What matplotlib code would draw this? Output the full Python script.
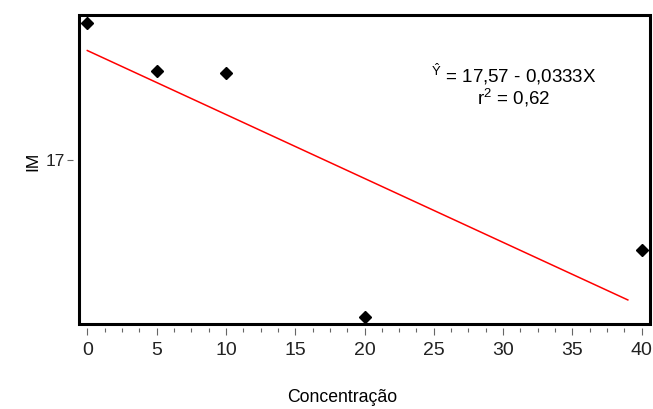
import numpy as np
import matplotlib
matplotlib.use("Agg")
import matplotlib.pyplot as plt
from matplotlib import ticker
from matplotlib.patches import Rectangle

plt.rcParams['font.family'] = ['Liberation Sans', 'DejaVu Sans']
plt.rcParams['mathtext.fontset'] = 'custom'
plt.rcParams['mathtext.rm'] = 'Liberation Sans'
plt.rcParams['mathtext.it'] = 'Liberation Sans'

# dados observados
conc = [0, 5, 10, 20, 40]
im = [17.714, 17.464, 17.453, 16.182, 16.531]

# reta ajustada
b0 = 17.57
b1 = -0.0333
x_fit = np.array([0, 39])
y_fit = b0 + b1 * x_fit

W, H = 653, 409
fig = plt.figure(figsize=(W / 100, H / 100), dpi=100)
ax = fig.add_axes([79 / W, 1 - 324 / H, 571 / W, 309 / H])

ax.plot(x_fit, y_fit, color='red', lw=1.1)
ax.plot(conc, im, 'D', color='black', markersize=6.5, clip_on=False, zorder=3)

ax.set_xlim(-0.6, 40.6)
ax.set_ylim(16.146, 17.755)

ax.xaxis.set_major_locator(ticker.MultipleLocator(5))
ax.xaxis.set_minor_locator(ticker.MultipleLocator(1.25))
ax.yaxis.set_major_locator(ticker.FixedLocator([17]))
ax.yaxis.set_major_formatter(ticker.FixedFormatter(['17']))

# moldura grossa; os ticks ficam um pouco afastados dela
for s in ax.spines.values():
    s.set_visible(False)
ax.spines['bottom'].set_position(('outward', 3))
ax.spines['left'].set_position(('outward', 4))
ax.add_patch(Rectangle((0, 0), 1, 1, transform=ax.transAxes, fill=False,
                       lw=2.2, edgecolor='black', clip_on=False, zorder=4))

ax.tick_params(axis='x', which='major', length=5, width=0.8, pad=5,
               labelsize=14, color='#666666', labelcolor='#222222')
ax.tick_params(axis='x', which='minor', length=3, width=0.8, color='#666666')
ax.tick_params(axis='y', which='major', length=4, width=0.8, pad=2,
               labelsize=12.5, color='#666666', labelcolor='#222222')

fig.text(342 / W, 1 - 398 / H, 'Concentração', fontsize=12.7,
         ha='center', va='center')
fig.text(33 / W, 1 - 161 / H, 'IM', fontsize=12.5, rotation=90,
         ha='center', va='center')

eq = r'$^{\hat{\mathrm{Y}}}$' + ' = 17,57 - 0,0333X\n' + r'r$^{2}$ = 0,62'
fig.text(514 / W, 1 - 85 / H, eq, ha='center', va='center',
         multialignment='center', linespacing=0.95, fontsize=13.5)

fig.savefig('out.png', dpi=100)
